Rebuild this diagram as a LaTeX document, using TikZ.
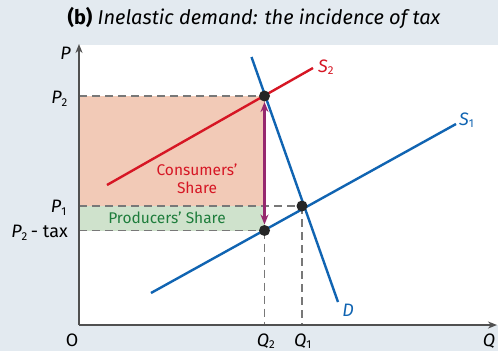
\documentclass[tikz,border=0pt]{standalone}
\usepackage{fontspec}
\setmainfont{Fira Sans}
\setsansfont{Fira Sans}
\usetikzlibrary{arrows.meta}
\definecolor{bgc}{RGB}{227,234,240}
\definecolor{pinkc}{RGB}{242,202,183}
\definecolor{greenc}{RGB}{207,226,204}
\definecolor{redc}{RGB}{214,22,36}
\definecolor{bluec}{RGB}{16,100,178}
\definecolor{purplec}{RGB}{150,40,110}
\definecolor{greentext}{RGB}{30,125,60}
\definecolor{axisc}{RGB}{80,80,80}
\definecolor{dashc}{RGB}{120,120,120}
\tikzset{
  curve/.style={line width=2.4pt},
  guide/.style={dashc, line width=1.3pt, dash pattern=on 8pt off 5pt},
  dot/.style={circle, fill=black!85, inner sep=0pt, minimum size=11pt},
  lab/.style={font=\fontsize{18}{20}\selectfont\itshape, inner sep=0pt},
  uplab/.style={font=\fontsize{18}{20}\selectfont, inner sep=0pt},
  share/.style={font=\fontsize{15.5}{18}\selectfont, align=center, inner sep=0pt},
}
\newcommand{\sbs}[1]{\textsubscript{\upshape\fontsize{11.5}{12}\selectfont #1}}
\begin{document}
\begin{tikzpicture}[x=1pt,y=-1pt]
\fill[bgc] (0,0) rectangle (498,351);
\fill[white] (79,45) rectangle (498,325);
\useasboundingbox (0,0) rectangle (498,351);
% title
\node[font=\fontsize{20}{22}\selectfont, anchor=center] (title) at (254,18)
  {\textbf{(b)} \textit{Inelastic demand: the incidence of tax}};
% shaded areas
\fill[pinkc] (79,96) rectangle (264.5,206);
\fill[greenc] (79,206) rectangle (264.5,230.5);
% key points
\coordinate (A) at (264.5,96);
\coordinate (B) at (302,206);
\coordinate (C) at (264.5,230.5);
\coordinate (Ax) at (79,96);
\coordinate (Bx) at (79,206);
\coordinate (Cx) at (79,230.5);
\coordinate (Bq) at (302,325);
\coordinate (Cq) at (264.5,325);
% guides
\draw[guide] (Ax) -- (A);
\draw[guide] (Bx) -- (B);
\draw[guide] (Cx) -- (C);
\draw[guide] (C) -- (Cq);
\draw[guide] (B) -- (Bq);
% curves
\coordinate (S2a) at (107,185);
\coordinate (S2b) at (313,68);
\coordinate (S1a) at (151,293);
\coordinate (S1b) at (456,124);
\coordinate (Da) at (251.5,57);
\coordinate (Db) at (338,302);
\draw[curve, redc] (S2a) -- (S2b);
\draw[curve, bluec] (S1a) -- (S1b);
\draw[curve, bluec] (Da) -- (Db);
% axes
\coordinate (O) at (79,325);
\coordinate (Ptop) at (79,44);
\coordinate (Qend) at (497,325);
\draw[axisc, line width=1.8pt, -{Stealth[length=9pt,width=7pt]}] (O) -- (Ptop);
\draw[axisc, line width=1.8pt, -{Stealth[length=9pt,width=7pt]}] (O) -- (Qend);
% tax arrow
\draw[purplec, line width=2.2pt, {Stealth[length=10pt,width=8pt]}-{Stealth[length=10pt,width=8pt]}] ([yshift=-6pt]A) -- ([yshift=6pt]C);
% dots
\node[dot] (dA) at (A) {};
\node[dot] (dB) at (B) {};
\node[dot] (dC) at (C) {};
% labels
\node[lab, anchor=east] (lP) at (71,53) {P};
\node[lab, anchor=east] (lP2) at (68,99) {P\sbs{2}};
\node[lab, anchor=east] (lP1) at (67,208) {P\sbs{1}};
\node[lab, anchor=east] (lPt) at (68,233) {P\sbs{2}\upshape\,- tax};
\node[uplab, anchor=base] (lO) at (72,346) {O};
\node[lab, anchor=base] (lQ2) at (266,346) {Q\sbs{2}};
\node[lab, anchor=base] (lQ1) at (303,346) {Q\sbs{1}};
\node[lab, anchor=base] (lQ) at (489,346) {Q};
\node[lab, redc, anchor=west] (lS2) at (318,67) {S\sbs{2}};
\node[lab, bluec, anchor=west] (lS1) at (459,120) {S\sbs{1}};
\node[lab, bluec] (lD) at (348,310) {D};
\node[share, redc] (cs) at (197,179) {Consumers’\\Share};
\node[share, greentext] (ps) at (167,218) {Producers’ Share};
\end{tikzpicture}
\end{document}
